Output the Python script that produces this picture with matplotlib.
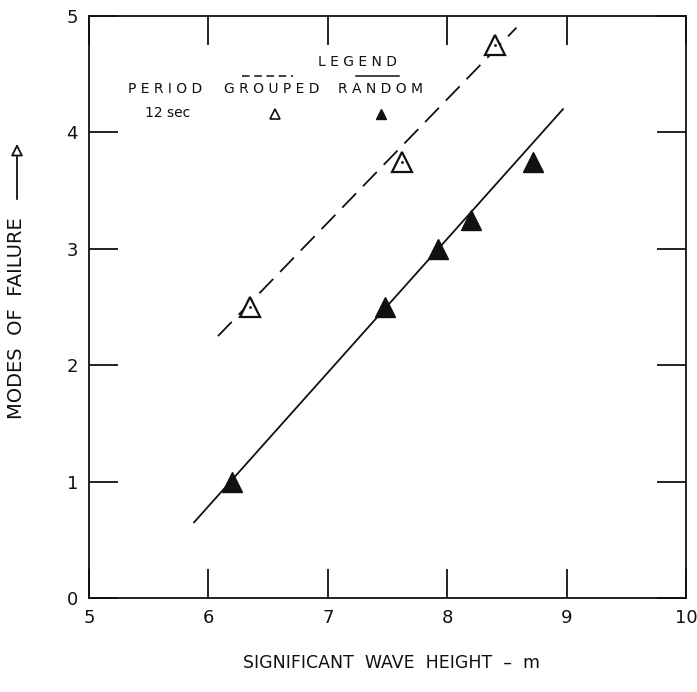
import matplotlib
matplotlib.use("Agg")
import matplotlib.pyplot as plt
from matplotlib.patches import FancyArrowPatch

# data
grouped_x = [6.35, 7.62, 8.4]
grouped_y = [2.5, 3.75, 4.75]
grouped_fit_x = [6.08, 8.58]
grouped_fit_y = [2.25, 4.9]

random_x = [6.2, 7.48, 7.92, 8.2, 8.72]
random_y = [1.0, 2.5, 3.0, 3.25, 3.75]
random_fit_x = [5.88, 8.97]
random_fit_y = [0.65, 4.2]

x_ticks = [5, 6, 7, 8, 9, 10]
y_ticks = [0, 1, 2, 3, 4, 5]

INK = "#111111"
FONT = "DejaVu Sans"

fig = plt.figure(figsize=(6.97, 6.92), dpi=100, facecolor="white")
ax = fig.add_axes([89 / 697, 1 - 598 / 692, (686 - 89) / 697, (598 - 16) / 692])

ax.plot(grouped_fit_x, grouped_fit_y, color=INK, lw=1.3, dashes=(11, 5.5))
ax.plot(random_fit_x, random_fit_y, color=INK, lw=1.3)

ax.plot(grouped_x, grouped_y, "^", ms=14, mfc="white", mec=INK, mew=1.6, ls="none")
ax.plot(grouped_x, grouped_y, ".", ms=2, color=INK, ls="none")
ax.plot(random_x, random_y, "^", ms=14, color=INK, ls="none")

ax.set_xlim(5, 10)
ax.set_ylim(0, 5)
ax.set_xticks(x_ticks)
ax.set_yticks(y_ticks)
ax.tick_params(direction="in", length=21, width=1.3, color=INK,
               top=True, right=True, labelsize=13, pad=8)
for lab in ax.get_xticklabels() + ax.get_yticklabels():
    lab.set_family(FONT)
    lab.set_color(INK)
for sp in ax.spines.values():
    sp.set_linewidth(1.3)
    sp.set_color(INK)

# legend drawn as text, like the original lettering
tk = dict(transform=fig.transFigure, color=INK, fontsize=10, family=FONT)
fig.text(357 / 697, 1 - 62 / 692, "L E G E N D", ha="center", va="center", **tk)
fig.text(165 / 697, 1 - 89 / 692, "P E R I O D", ha="center", va="center", **tk)
fig.text(272 / 697, 1 - 89 / 692, "G R O U P E D", ha="center", va="center", **tk)
fig.text(380 / 697, 1 - 89 / 692, "R A N D O M", ha="center", va="center", **tk)
fig.text(168 / 697, 1 - 113 / 692, "12 sec", ha="center", va="center", **tk)
fig.add_artist(plt.Line2D([242 / 697, 293 / 697], [1 - 76 / 692] * 2, color=INK,
                          lw=1.1, dashes=(5, 3), transform=fig.transFigure))
fig.add_artist(plt.Line2D([356 / 697, 399 / 697], [1 - 76 / 692] * 2, color=INK,
                          lw=1.1, transform=fig.transFigure))
fig.add_artist(plt.Line2D([275 / 697], [1 - 114 / 692], marker="^", ms=7, mfc="white",
                          mec=INK, mew=1.2, transform=fig.transFigure))
fig.add_artist(plt.Line2D([381 / 697], [1 - 114 / 692], marker="^", ms=7, color=INK,
                          transform=fig.transFigure))

fig.text(391 / 697, 1 - 663 / 692, "SIGNIFICANT  WAVE  HEIGHT  –  m", ha="center",
         va="center", fontsize=12.5, family=FONT, color=INK)
fig.text(17 / 697, 1 - 318 / 692, "MODES  OF  FAILURE", rotation=90, ha="center",
         va="center", fontsize=14, family=FONT, color=INK)
fig.add_artist(FancyArrowPatch(
    (17 / 697, 1 - 202 / 692), (17 / 697, 1 - 141 / 692), transform=fig.transFigure,
    arrowstyle="-|>,head_length=7,head_width=3.5", color=INK, fc="white", lw=1.3,
    mutation_scale=1))

fig.savefig("out.png", dpi=100, facecolor="white")
